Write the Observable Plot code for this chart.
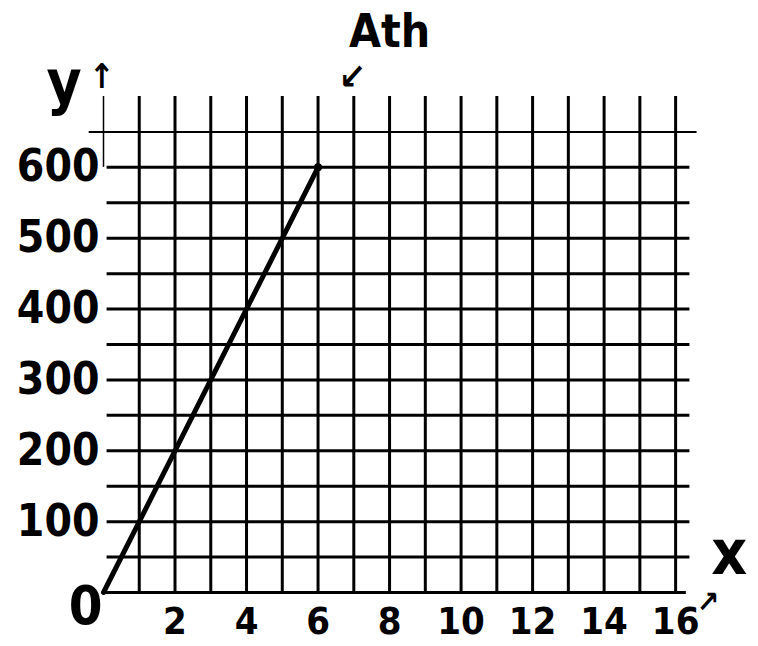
<!DOCTYPE html>
<html>
<head>
<meta charset="utf-8">
<script src="https://cdn.jsdelivr.net/npm/d3@7"></script>
<script src="https://cdn.jsdelivr.net/npm/@observablehq/plot@0.6"></script>
<style>
  html, body { margin: 0; padding: 0; background: #fff; }
  svg { display: block; }
  svg text { font-stretch: condensed; }
</style>
</head>
<body>
<div id="chart"></div>
<script>
// Data
const lineX = [0, 6];
const lineY = [0, 600];
const gridX = [1, 2, 3, 4, 5, 6, 7, 8, 9, 10, 11, 12, 13, 14, 15, 16];
const gridY = [50, 100, 150, 200, 250, 300, 350, 400, 450, 500, 550, 600];
const xTicks = [2, 4, 6, 8, 10, 12, 14, 16];
const yTicks = [100, 200, 300, 400, 500, 600];
const titleText = "Ath";
const xLabel = "x";
const yLabel = "y";

const pts = lineX.map((x, i) => ({x, y: lineY[i]}));
const font = "'Liberation Sans Narrow', 'DejaVu Sans Condensed', 'DejaVu Sans', sans-serif";

const chart = Plot.plot({
  width: 758,
  height: 646,
  marginLeft: 103,
  marginRight: 65,
  marginTop: 96,
  marginBottom: 54,
  style: {fontFamily: font, fontWeight: "bold", background: "#fff", color: "#000"},
  x: {domain: [0, 16.5], ticks: xTicks, tickSize: 0, tickPadding: 12, label: null},
  y: {domain: [0, 700], ticks: yTicks, tickSize: 0, tickPadding: 4, label: null},
  marks: [
    // vertical grid lines
    Plot.ruleX(gridX, {y1: 0, y2: 700, stroke: "#000", strokeWidth: 3}),
    Plot.ruleX([0], {y1: 600, y2: 700, stroke: "#000", strokeWidth: 1.5}),
    // horizontal grid lines
    Plot.ruleY(gridY, {x1: 0.1, x2: 16.4, stroke: "#000", strokeWidth: 3}),
    Plot.ruleY([650], {x1: -0.4, x2: 16.6, stroke: "#000", strokeWidth: 2}),
    Plot.ruleY([0], {x1: 0.05, x2: 16.3, stroke: "#000", strokeWidth: 3}),
    // data line
    Plot.line(pts, {x: "x", y: "y", stroke: "#000", strokeWidth: 5, strokeLinecap: "round"}),
    Plot.dot(pts.slice(1), {x: "x", y: "y", r: 4, fill: "#000"}),
    // axes
    Plot.axisX({ticks: xTicks, tickSize: 0, tickPadding: 15, fontSize: 38, label: null}),
    Plot.axisY({ticks: yTicks, tickSize: 0, tickPadding: 4, fontSize: 44, label: null}),
    Plot.text(["0"], {x: -0.5, y: -20, text: d => d, fontSize: 54, fontWeight: "bold", fill: "#000"}),
    // title and annotations
    Plot.text([titleText], {x: 8.0, y: 790, text: d => d, fontSize: 46, fontWeight: "bold", fill: "#000"}),
    Plot.text(["↙"], {x: 6.95, y: 727, text: d => d, fontSize: 36, fontWeight: "bold", fill: "#000", fontFamily: "DejaVu Sans"}),
    Plot.text([yLabel], {x: -1.1, y: 718, text: d => d, fontSize: 60, fontWeight: "bold", fill: "#000"}),
    Plot.text(["↑"], {x: -0.05, y: 728, text: d => d, fontSize: 34, fontWeight: "bold", fill: "#000", fontFamily: "DejaVu Sans"}),
    Plot.text([xLabel], {x: 17.5, y: 54, text: d => d, fontSize: 62, fontWeight: "bold", fill: "#000"}),
    Plot.text(["↗"], {x: 16.9, y: -14, text: d => d, fontSize: 30, fontWeight: "bold", fill: "#000", fontFamily: "DejaVu Sans"})
  ]
});
document.getElementById("chart").appendChild(chart);
</script>
</body>
</html>
